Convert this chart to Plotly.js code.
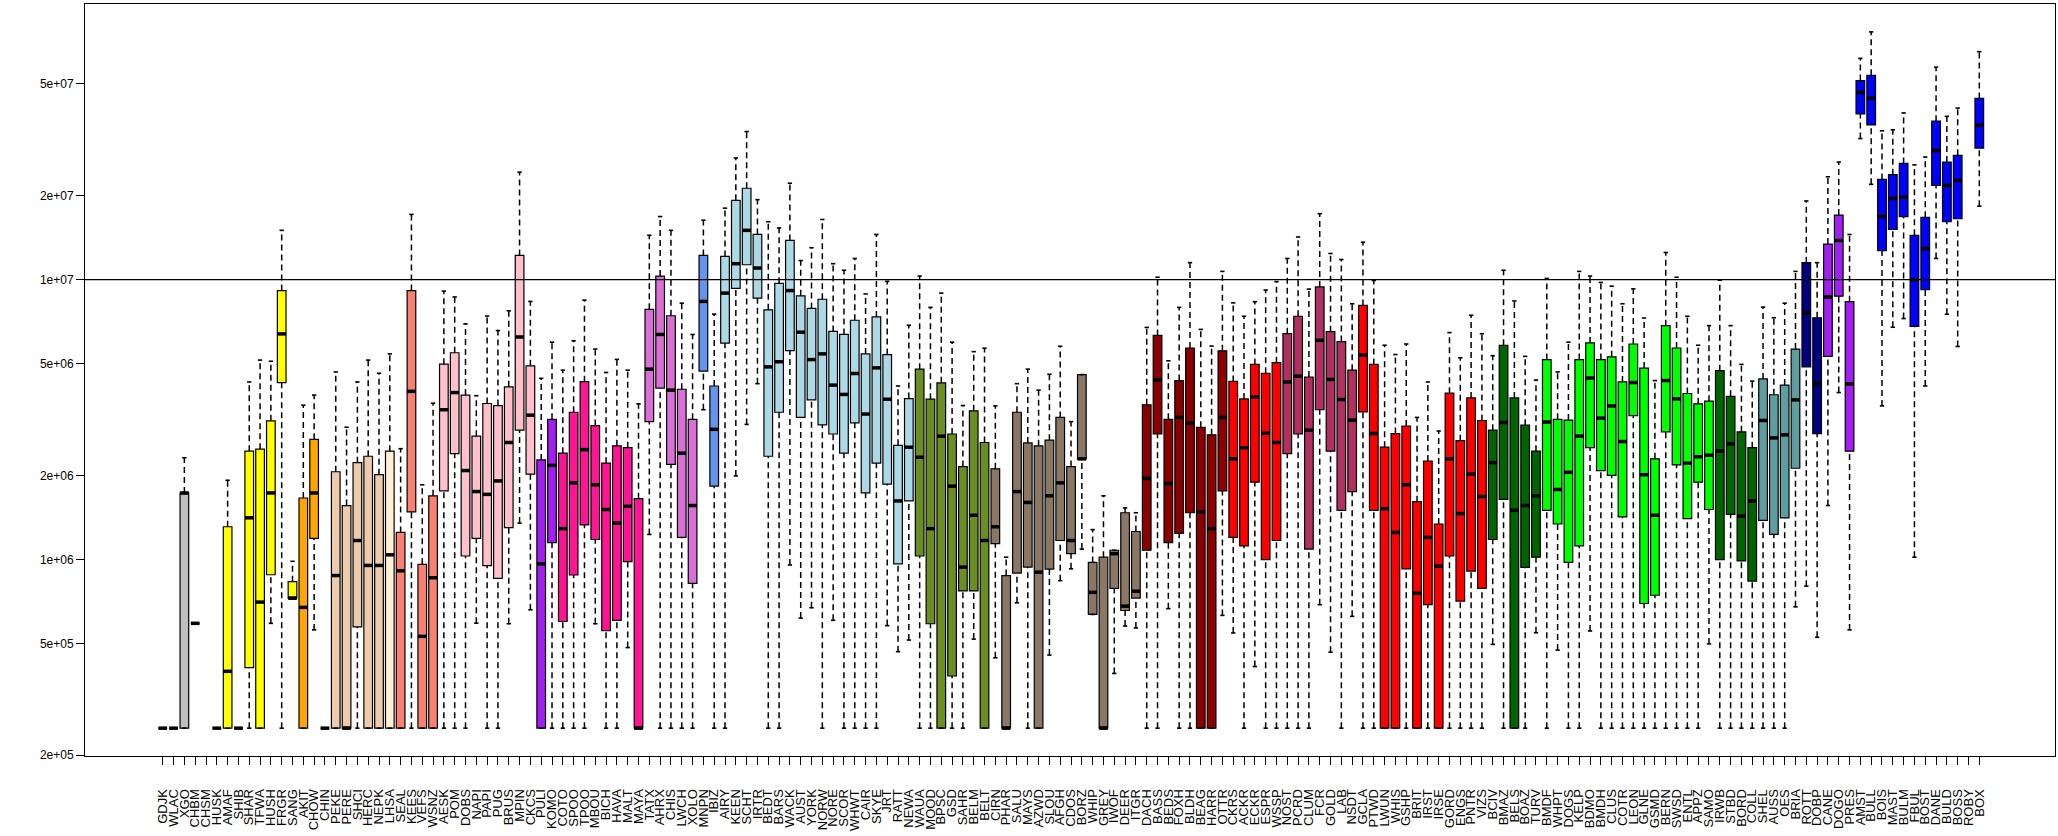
<!DOCTYPE html>
<html><head><meta charset="utf-8">
<script src="https://cdn.plot.ly/plotly-3.0.1.min.js"></script>
<style>html,body{margin:0;padding:0;background:#fff;}#chart{width:2058px;height:836px;}</style>
</head><body><div id="chart"></div>
<script>
const categories = [
"GDJK","WLAC","XGO","CHBM","CHSM",
"HUSK","AMAF","SHIB","SHAR","TFWA","HUSH","FRGR","SANG",
"AKIT","CHOW",
"CHIN","PEKE","PERE","SHCI","HERC","NEPK",
"LHSA",
"SEAL","KEES","VEFS","WSNZ",
"AESK","POM","DOBS","NAPI","PAPI","PUG","BRUS","MPIN","CKCS",
"PULI","KOMO",
"COTO","SPOO","TPOO","MBOU","BICH","HAVA","MALT","MAYA",
"TATX","AHRX","CHIS","LWCH","XOLO",
"MNPN","IBIZ",
"AIRY","KEEN","SCHT","IRTR","BEDT","BARS","WACK","AUST","YORK","NORW","NORE","SCOR","WHWT","CAIR","SKYE","JRT","RATT","NEWA",
"WAUA","MOOD","BPSC","GSD","SAHR","BELM","BELT",
"CIRN","PHAR","SALU","MAYS","AZWD","SLOU","AFGH","CDOS","BORZ","WHIP","GREY","IWOF","DEER","ITGR",
"DACH","BASS","BEDS","FOXH","BLDH","BEAG","HARR","OTTR",
"CKRS","ACKR","ECKR","ESPR","WSSP",
"NOST","PCRD","CLUM","FCR","GOLD","LAB","NSDT",
"GCLA","PTWD","LWUN","WHIS","GSHP","BRIT","IRST","IRSE","GORD","ENGS","PNTR","VIZS",
"BCIV","BMAZ","BELS","BOAZ","TURV",
"BMDF","WHPT","DOGS","KELP","BDMO","BMDH","CLUS","COTR","LEON","GLNE","GSMD","BERN","SWSD","ENTL","APPZ","SAMO",
"IRWB","STBD","BORD","COLL",
"SHEL","AUSS","OES","BRIA",
"ROTT","DOBP",
"CANE","DOGO","PRES",
"AMST","BULL","BOIS","MAST","BULM","FBUL","BOST","DANE","BULD","BOSS","ROBY","BOX"
];

const lowerWhisker = [
2.5e5,2.5e5,2.5e5,5.92e5,null,2.5e5,2.5e5,2.5e5,2.5e5,2.5e5,
5.92e5,2.5e5,7.28e5,2.5e5,5.61e5,2.5e5,2.5e5,2.5e5,2.5e5,2.5e5,
2.5e5,2.5e5,2.5e5,2.5e5,2.5e5,2.5e5,2.5e5,2.5e5,2.5e5,5.93e5,
2.5e5,2.5e5,5.90e5,1.35e6,6.62e5,2.5e5,2.5e5,2.5e5,2.5e5,2.5e5,
5.90e5,2.5e5,2.5e5,4.85e5,2.5e5,1.23e6,2.5e5,2.5e5,2.5e5,2.5e5,
3.43e6,2.5e5,2.5e5,1.99e6,3.04e6,4.25e6,2.5e5,2.5e5,9.57e5,6.18e5,
6.73e5,2.5e5,6.07e5,2.5e5,2.5e5,2.5e5,2.5e5,5.81e5,4.69e5,5.16e5,
2.5e5,2.5e5,2.5e5,2.5e5,2.5e5,5.20e5,2.5e5,4.46e5,2.5e5,7.01e5,
2.5e5,2.5e5,4.56e5,8.41e5,9.27e5,1.09e6,6.37e5,2.5e5,3.92e5,5.79e5,
5.70e5,2.5e5,2.5e5,6.68e5,2.5e5,2.5e5,2.5e5,2.5e5,6.32e5,5.47e5,
2.5e5,4.15e5,2.5e5,2.5e5,2.5e5,2.5e5,2.5e5,6.90e5,4.67e5,2.5e5,
6.27e5,2.5e5,2.5e5,2.5e5,2.5e5,2.5e5,2.5e5,2.5e5,2.5e5,2.5e5,
2.5e5,2.5e5,2.5e5,4.98e5,2.5e5,2.5e5,2.5e5,5.48e5,2.5e5,4.75e5,
2.5e5,2.5e5,5.56e5,2.5e5,2.5e5,2.5e5,2.5e5,2.5e5,2.5e5,2.5e5,
2.5e5,2.5e5,2.5e5,5.00e5,2.5e5,2.5e5,2.5e5,2.5e5,2.5e5,2.5e5,
2.5e5,6.78e5,8.04e5,5.28e5,1.56e6,3.95e6,5.61e5,3.19e7,2.19e7,3.54e6,
6.76e6,7.26e6,1.02e6,4.17e6,1.19e7,7.52e6,5.77e6,null,1.83e7
];
const q1 = [
2.5e5,2.5e5,2.5e5,5.92e5,null,2.5e5,2.5e5,2.5e5,4.11e5,2.5e5,
8.83e5,4.29e6,7.28e5,2.5e5,1.19e6,2.5e5,2.5e5,2.5e5,5.75e5,2.5e5,
2.5e5,2.5e5,2.5e5,1.48e6,2.5e5,2.5e5,1.76e6,2.39e6,1.03e6,1.19e6,
9.51e5,8.57e5,1.30e6,2.90e6,2.02e6,2.5e5,1.15e6,6.01e5,8.81e5,1.33e6,
1.18e6,5.57e5,6.07e5,9.84e5,2.5e5,3.11e6,4.10e6,2.19e6,1.20e6,8.22e5,
4.71e6,1.83e6,5.93e6,9.31e6,1.13e7,8.59e6,2.34e6,3.36e6,5.58e6,3.22e6,
3.72e6,3.03e6,2.81e6,2.40e6,3.08e6,1.73e6,2.21e6,1.86e6,9.66e5,1.62e6,
1.03e6,5.90e5,2.5e5,3.84e5,7.73e5,7.73e5,2.5e5,1.14e6,2.5e5,8.95e5,
9.40e5,2.5e5,9.25e5,1.17e6,1.05e6,2.29e6,6.37e5,2.5e5,7.89e5,6.58e5,
7.29e5,1.08e6,2.81e6,1.15e6,1.24e6,1.47e6,2.5e5,2.5e5,1.76e6,1.20e6,
1.12e6,1.89e6,1.00e6,1.17e6,2.39e6,2.81e6,1.09e6,3.43e6,2.44e6,1.50e6,
1.75e6,3.37e6,1.50e6,2.5e5,2.5e5,9.27e5,2.5e5,6.90e5,2.5e5,1.03e6,
7.11e5,9.10e5,7.89e5,1.18e6,1.64e6,2.5e5,9.38e5,1.02e6,1.50e6,1.34e6,
9.77e5,1.12e6,2.51e6,2.08e6,2.00e6,1.42e6,3.27e6,6.97e5,7.46e5,2.86e6,
2.18e6,1.40e6,1.89e6,1.51e6,1.00e6,1.45e6,9.89e5,8.38e5,1.38e6,1.23e6,
1.41e6,2.12e6,4.88e6,2.82e6,5.32e6,8.73e6,2.44e6,3.91e7,3.57e7,1.27e7,
1.51e7,1.68e7,6.81e6,9.20e6,2.17e7,1.61e7,1.65e7,null,2.95e7
];
const median = [
2.5e5,2.5e5,1.73e6,5.92e5,null,2.5e5,3.99e5,2.5e5,1.41e6,7.05e5,
1.73e6,6.40e6,7.28e5,6.75e5,1.73e6,2.5e5,8.77e5,2.5e5,1.17e6,9.53e5,
9.53e5,1.04e6,9.12e5,3.99e6,5.32e5,8.61e5,3.43e6,3.95e6,2.08e6,1.75e6,
1.71e6,1.91e6,2.62e6,6.24e6,3.28e6,9.66e5,2.17e6,1.29e6,1.88e6,2.47e6,
1.85e6,1.51e6,1.35e6,1.55e6,2.5e5,4.79e6,6.37e6,4.03e6,2.40e6,1.56e6,
8.36e6,2.92e6,8.95e6,1.14e7,1.50e7,1.10e7,4.88e6,5.09e6,9.14e6,6.49e6,
5.18e6,5.43e6,4.20e6,3.89e6,4.62e6,3.31e6,4.84e6,3.74e6,1.62e6,2.52e6,
2.32e6,1.29e6,2.76e6,1.83e6,9.40e5,1.44e6,1.17e6,1.31e6,2.5e5,1.75e6,
1.60e6,9.02e5,1.69e6,1.88e6,1.17e6,2.29e6,7.64e5,2.5e5,1.05e6,6.82e5,
7.71e5,1.95e6,4.38e6,1.87e6,3.22e6,3.07e6,1.48e6,1.29e6,3.22e6,2.29e6,
2.51e6,3.81e6,2.83e6,2.62e6,4.31e6,4.52e6,2.90e6,6.07e6,4.40e6,3.73e6,
3.15e6,5.38e6,2.82e6,1.52e6,1.25e6,1.85e6,7.59e5,1.20e6,9.48e5,2.29e6,
1.46e6,2.02e6,1.68e6,2.22e6,3.09e6,1.50e6,1.56e6,1.69e6,3.10e6,1.78e6,
2.05e6,2.76e6,4.45e6,3.20e6,3.54e6,2.64e6,4.29e6,2.01e6,1.44e6,4.36e6,
3.75e6,2.21e6,2.33e6,2.36e6,2.44e6,2.59e6,1.43e6,1.62e6,3.14e6,2.72e6,
2.79e6,3.72e6,7.60e6,4.25e6,8.67e6,1.38e7,4.24e6,4.66e7,4.44e7,1.68e7,
1.95e7,1.97e7,1.00e7,1.29e7,2.89e7,2.17e7,2.26e7,null,3.56e7
];
const q3 = [
2.5e5,2.5e5,1.73e6,5.92e5,null,2.5e5,1.31e6,2.5e5,2.44e6,2.48e6,
3.13e6,9.14e6,8.34e5,1.66e6,2.69e6,2.5e5,2.06e6,1.56e6,2.22e6,2.34e6,
2.01e6,2.44e6,1.25e6,9.14e6,9.62e5,1.69e6,4.99e6,5.48e6,3.87e6,2.76e6,
3.61e6,3.55e6,4.14e6,1.22e7,4.92e6,2.27e6,3.17e6,2.40e6,3.36e6,4.32e6,
3.01e6,2.21e6,2.55e6,2.51e6,1.65e6,7.83e6,1.03e7,7.43e6,4.06e6,3.17e6,
1.22e7,4.17e6,1.21e7,1.92e7,2.12e7,1.45e7,7.80e6,9.70e6,1.38e7,8.75e6,
7.89e6,8.51e6,6.53e6,6.37e6,7.16e6,5.43e6,7.36e6,5.40e6,2.56e6,3.76e6,
4.79e6,3.74e6,4.28e6,2.81e6,2.15e6,3.40e6,2.62e6,2.11e6,8.77e5,3.36e6,
2.61e6,2.55e6,2.67e6,3.22e6,2.15e6,4.58e6,9.77e5,1.02e6,1.08e6,1.47e6,
1.26e6,3.57e6,6.32e6,3.17e6,4.36e6,5.70e6,2.97e6,2.79e6,5.57e6,4.33e6,
3.75e6,4.98e6,4.63e6,5.05e6,6.41e6,7.40e6,4.49e6,9.42e6,6.52e6,6.01e6,
4.75e6,8.09e6,4.98e6,2.52e6,2.82e6,3.00e6,1.61e6,2.25e6,1.34e6,3.93e6,
2.66e6,3.78e6,3.14e6,2.90e6,5.83e6,3.78e6,3.02e6,2.44e6,5.18e6,3.17e6,
3.15e6,5.18e6,5.94e6,5.18e6,5.30e6,4.31e6,5.89e6,4.83e6,2.29e6,6.85e6,
5.70e6,3.92e6,3.60e6,3.68e6,4.73e6,3.83e6,2.86e6,2.51e6,4.42e6,3.88e6,
4.20e6,5.65e6,1.15e7,7.31e6,1.34e7,1.70e7,8.34e6,5.14e7,5.37e7,2.28e7,
2.37e7,2.60e7,1.44e7,1.67e7,3.68e7,2.63e7,2.78e7,null,4.44e7
];
const upperWhisker = [
2.5e5,2.5e5,2.31e6,5.92e5,null,2.5e5,1.92e6,2.5e5,4.31e6,5.16e6,
5.11e6,1.50e7,9.86e5,3.56e6,3.87e6,2.5e5,4.68e6,2.97e6,4.31e6,5.16e6,
4.63e6,5.43e6,2.49e6,1.71e7,1.85e6,3.62e6,9.10e6,8.67e6,6.95e6,3.85e6,
7.41e6,6.58e6,7.74e6,2.42e7,8.36e6,4.44e6,5.98e6,4.75e6,6.05e6,8.45e6,
5.65e6,4.66e6,5.19e6,4.75e6,3.60e6,1.44e7,1.68e7,1.50e7,8.24e6,6.37e6,
1.63e7,7.53e6,1.80e7,2.72e7,3.38e7,1.93e7,1.61e7,1.53e7,2.21e7,1.17e7,
1.30e7,1.64e7,1.14e7,1.08e7,1.19e7,8.89e6,1.45e7,9.86e6,4.17e6,6.87e6,
1.03e7,7.96e6,8.95e6,5.98e6,3.55e6,5.53e6,5.69e6,3.54e6,1.02e6,4.25e6,
4.79e6,4.03e6,4.59e6,5.78e6,3.11e6,4.58e6,1.28e6,1.69e6,1.08e6,1.53e6,
1.47e6,6.75e6,1.02e7,5.13e6,7.96e6,1.15e7,6.64e6,5.79e6,1.07e7,8.26e6,
7.40e6,8.34e6,9.18e6,9.84e6,1.19e7,1.42e7,9.25e6,1.72e7,1.24e7,1.18e7,
8.20e6,1.36e7,9.93e6,5.83e6,5.40e6,5.89e6,3.22e6,4.31e6,2.88e6,6.47e6,
5.26e6,7.46e6,6.41e6,5.35e6,1.08e7,8.39e6,5.32e6,4.38e6,1.01e7,4.68e6,
5.98e6,1.07e7,1.03e7,9.77e6,9.48e6,8.20e6,9.27e6,7.29e6,4.36e6,1.25e7,
1.02e7,7.40e6,5.83e6,6.85e6,9.95e6,6.85e6,4.98e6,4.34e6,7.98e6,7.31e6,
8.24e6,1.07e7,1.91e7,1.15e7,2.33e7,2.63e7,1.45e7,6.17e7,7.67e7,3.40e7,
3.43e7,3.94e7,2.57e7,2.74e7,5.74e7,3.83e7,4.10e7,null,6.52e7
];
const referenceLine = 1e7;
const yTickValues = [2e5,5e5,1e6,2e6,5e6,1e7,2e7,5e7];
const yTickLabels = ["2e+05","5e+05","1e+06","2e+06","5e+06","1e+07","2e+07","5e+07"];

// colour runs (style), in category order
const groupColors = ["#BEBEBE","#FFFF00","#FFA500","#EECBAD","#FFEFD5","#FA8072","#FFC0CB","#A020F0","#FF1493","#DA70D6","#6495ED","#ADD8E6","#6B8E23","#8B7765","#8B0000","#FF0000","#B03060","#FF0000","#006400","#00FF00","#006400","#5F9EA0","#000080","#A020F0","#0000FF"];
const groupSizes  = [5,8,2,6,1,4,9,2,8,5,2,18,7,14,8,5,7,12,5,16,4,4,2,3,12];

const BOXW = 0.8, CAPW = 0.4;
const idx = categories.map((_, i) => i);
const has = i => median[i] !== null;

const traces = [];
let start = 0;
groupSizes.forEach((size, g) => {
  const ids = idx.slice(start, start + size).filter(has);
  start += size;
  if (!ids.length) return;
  traces.push({
    type: 'box', x: ids,
    q1: ids.map(i => q1[i]), median: ids.map(i => median[i]), q3: ids.map(i => q3[i]),
    lowerfence: ids.map(i => q1[i]), upperfence: ids.map(i => q3[i]),
    width: BOXW, whiskerwidth: 0, boxpoints: false,
    fillcolor: groupColors[g], line: {color: '#000', width: 1.2},
    hoverinfo: 'skip', showlegend: false
  });
});

const wx = [], wy = [], cx = [], cy = [], mx = [], my = [];
idx.filter(has).forEach(i => {
  wx.push(i, i, null, i, i, null);
  wy.push(lowerWhisker[i], q1[i], null, q3[i], upperWhisker[i], null);
  cx.push(i - CAPW/2, i + CAPW/2, null, i - CAPW/2, i + CAPW/2, null);
  cy.push(lowerWhisker[i], lowerWhisker[i], null, upperWhisker[i], upperWhisker[i], null);
  mx.push(i - BOXW/2, i + BOXW/2, null);
  my.push(median[i], median[i], null);
});
traces.push({type:'scatter', mode:'lines', x: wx, y: wy, connectgaps:false,
  line:{color:'#000', width:1.5, dash:'6px,4px'}, hoverinfo:'skip', showlegend:false});
traces.push({type:'scatter', mode:'lines', x: cx, y: cy, connectgaps:false,
  line:{color:'#000', width:1.6}, hoverinfo:'skip', showlegend:false});
traces.push({type:'scatter', mode:'lines', x: mx, y: my, connectgaps:false,
  line:{color:'#000', width:3.5}, hoverinfo:'skip', showlegend:false});
traces.push({type:'scatter', mode:'lines', x: [-20, categories.length + 20], y: [referenceLine, referenceLine],
  line:{color:'#000', width:1.2}, hoverinfo:'skip', showlegend:false, cliponaxis:true});

const layout = {
  width: 2058, height: 836,
  margin: {l: 85, r: 3, t: 4, b: 80, pad: 0},
  paper_bgcolor: '#fff', plot_bgcolor: '#fff',
  showlegend: false, boxmode: 'overlay',
  font: {family: 'Liberation Sans, Arial, sans-serif', size: 12, color: '#000'},
  xaxis: {
    range: [-7.19, 175.0], tickmode: 'array', tickvals: idx, ticktext: categories,
    tickangle: -90, ticks: 'outside', ticklen: 8, tickwidth: 1, tickcolor: '#000',
    ticklabelstandoff: 19,
    tickfont: {size: 13, color: '#000', family: 'Liberation Sans, Arial, sans-serif'},
    showgrid: false, zeroline: false, showline: true, mirror: true, linecolor: '#000', linewidth: 1
  },
  yaxis: {
    type: 'log', range: [5.2985, 7.9845], tickmode: 'array', tickvals: yTickValues, ticktext: yTickLabels,
    ticks: 'outside', ticklen: 8, tickwidth: 1, tickcolor: '#000',
    tickfont: {size: 12, color: '#000', family: 'Liberation Sans, Arial, sans-serif'},
    showgrid: false, zeroline: false, showline: true, mirror: true, linecolor: '#000', linewidth: 1
  }
};
Plotly.newPlot('chart', traces, layout, {staticPlot: true, displayModeBar: false});
</script>
</body></html>
